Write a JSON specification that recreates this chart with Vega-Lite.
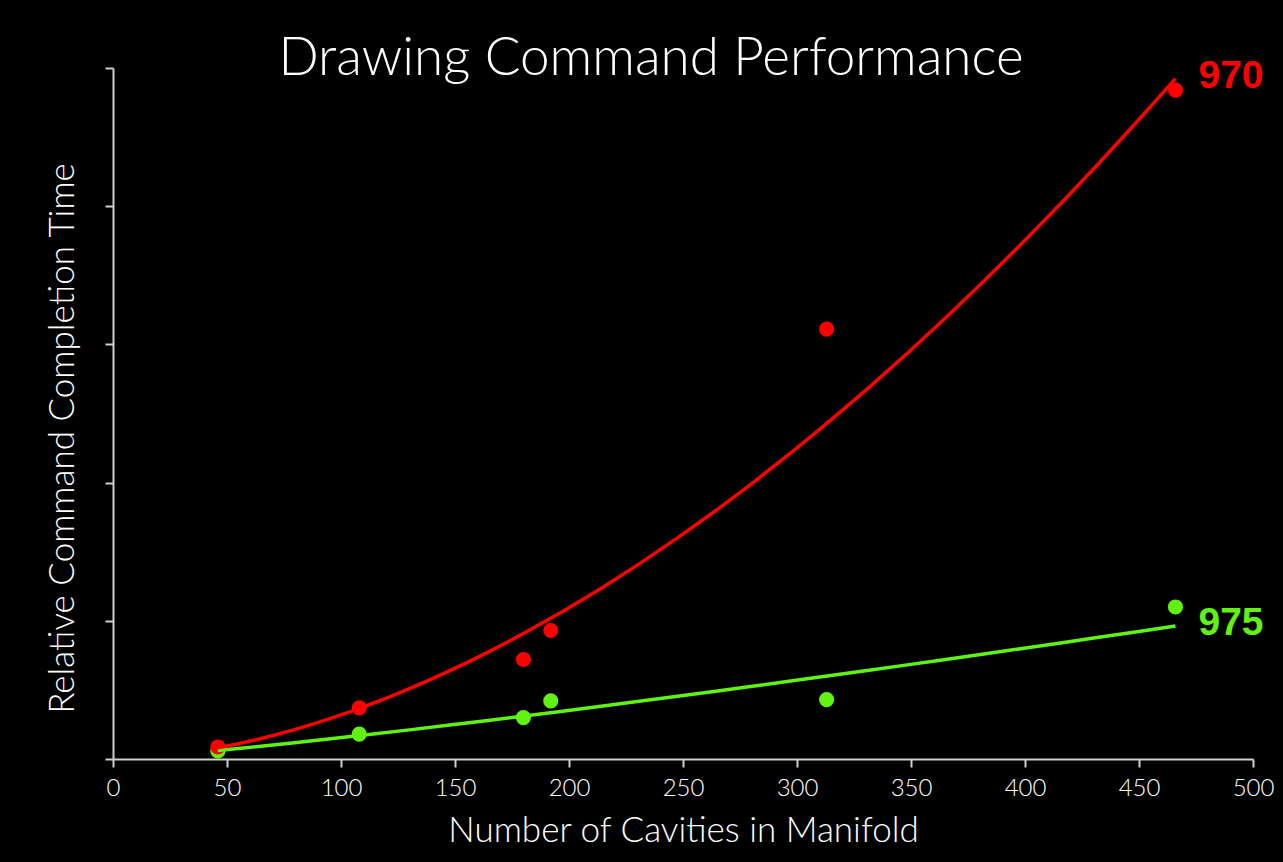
{
  "$schema": "https://vega.github.io/schema/vega-lite/v6.json",
  "width": 1140,
  "height": 691,
  "autosize": {"type": "none"},
  "padding": {"left": 113, "top": 68, "right": 30, "bottom": 103},
  "background": "#000000",
  "title": {
    "text": "Drawing Command Performance",
    "font": "Lato",
    "fontWeight": 300,
    "fontSize": 53,
    "color": "#ffffff",
    "anchor": "middle",
    "frame": "group",
    "dx": -32,
    "baseline": "alphabetic",
    "offset": -71
  },
  "config": {
    "view": {"stroke": null},
    "axis": {
      "domainColor": "#d0d0d0",
      "tickColor": "#d0d0d0",
      "domainWidth": 2,
      "tickWidth": 2,
      "tickSize": 8,
      "grid": false,
      "labelColor": "#ffffff",
      "titleColor": "#ffffff",
      "labelFont": "Lato",
      "labelFontSize": 24,
      "labelFontWeight": 300,
      "titleFont": "Lato",
      "titleFontSize": 35,
      "titleFontWeight": 300
    }
  },
  "data": {
    "values": [
      {"s": "975", "cavities": 46, "time": 0.058},
      {"s": "975", "cavities": 108, "time": 0.18},
      {"s": "975", "cavities": 180, "time": 0.30},
      {"s": "975", "cavities": 192, "time": 0.42},
      {"s": "975", "cavities": 313, "time": 0.43},
      {"s": "975", "cavities": 466, "time": 1.10},
      {"s": "970", "cavities": 46, "time": 0.087},
      {"s": "970", "cavities": 108, "time": 0.37},
      {"s": "970", "cavities": 180, "time": 0.72},
      {"s": "970", "cavities": 192, "time": 0.93},
      {"s": "970", "cavities": 313, "time": 3.11},
      {"s": "970", "cavities": 466, "time": 4.84}
    ]
  },
  "encoding": {
    "x": {
      "field": "cavities",
      "type": "quantitative",
      "scale": {"domain": [0, 500], "nice": false},
      "axis": {"values": [0, 50, 100, 150, 200, 250, 300, 350, 400, 450, 500], "labelFlush": false, "title": "Number of Cavities in Manifold", "labelPadding": 9, "titlePadding": 13}
    },
    "y": {
      "field": "time",
      "type": "quantitative",
      "scale": {"domain": [0, 5], "nice": false},
      "axis": {"values": [0, 1, 2, 3, 4, 5], "labels": false, "title": "Relative Command Completion Time", "titlePadding": 24, "titleY": 370}
    },
    "color": {
      "field": "s",
      "type": "nominal",
      "scale": {"domain": ["970", "975"], "range": ["#ff0000", "#5ff213"]},
      "legend": null
    }
  },
  "layer": [
    {
      "mark": {"type": "circle", "size": 230, "opacity": 1}
    },
    {
      "transform": [
        {"regression": "time", "on": "cavities", "method": "pow", "groupby": ["s"]}
      ],
      "mark": {"type": "line", "strokeWidth": 3.5}
    },
    {
      "transform": [
        {"regression": "time", "on": "cavities", "method": "pow", "groupby": ["s"]},
        {"joinaggregate": [{"op": "max", "field": "cavities", "as": "maxc"}], "groupby": ["s"]},
        {"filter": "datum.cavities === datum.maxc"}
      ],
      "mark": {"type": "text", "align": "left", "baseline": "middle", "dx": 23, "dy": -3, "font": "Liberation Sans", "fontWeight": "bold", "fontSize": 39},
      "encoding": {"text": {"field": "s"}}
    }
  ]
}
